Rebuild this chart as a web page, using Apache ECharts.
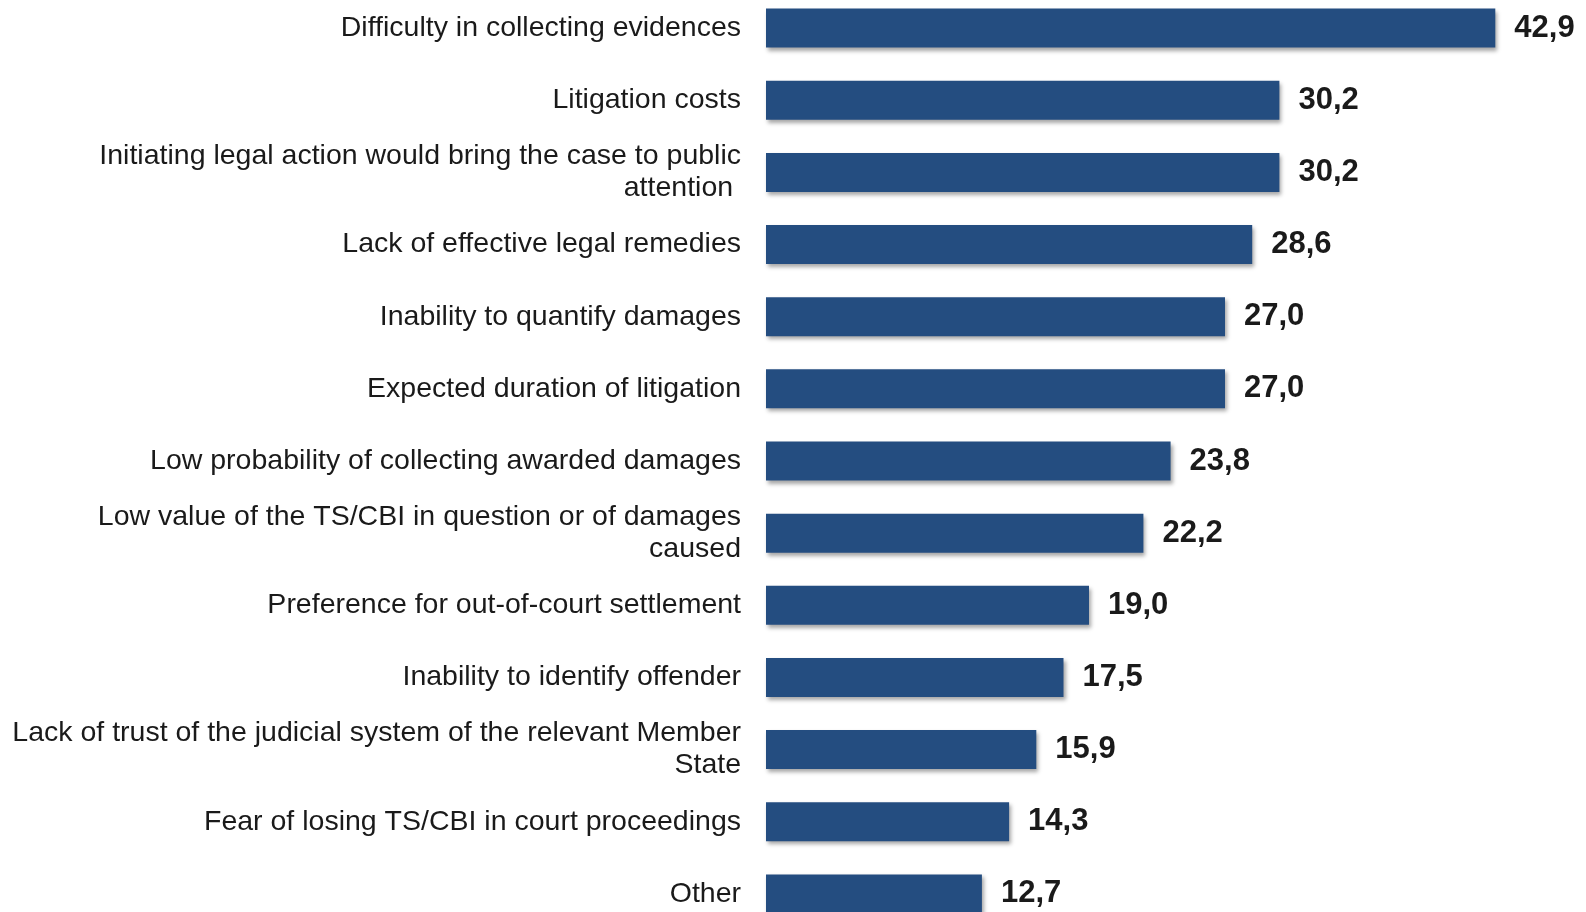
<!DOCTYPE html>
<html>
<head>
<meta charset="utf-8">
<script src="https://cdn.jsdelivr.net/npm/echarts@6/dist/echarts.min.js"></script>
<style>
  html, body { margin: 0; padding: 0; background: #fff; }
  #bars { width: 1586px; height: 912px; }
</style>
</head>
<body>
<div id="bars"></div>
<script>
 var reasons = [
   'Difficulty in collecting evidences',
   'Litigation costs',
   'Initiating legal action would bring the case to public\nattention ',
   'Lack of effective legal remedies',
   'Inability to quantify damages',
   'Expected duration of litigation',
   'Low probability of collecting awarded damages',
   'Low value of the TS/CBI in question or of damages\ncaused',
   'Preference for out-of-court settlement',
   'Inability to identify offender',
   'Lack of trust of the judicial system of the relevant Member\nState',
   'Fear of losing TS/CBI in court proceedings',
   'Other'
 ];
 var shares = [42.9, 30.2, 30.2, 28.6, 27.0, 27.0, 23.8, 22.2, 19.0, 17.5, 15.9, 14.3, 12.7];

 function makeBarOption() {
   var option = {
     animation: false,
     backgroundColor: '#ffffff',
     grid: {
       left: 766,
       right: 55,
       top: -8,
       bottom: -18,
       containLabel: false,
       outerBoundsMode: 'none'
     },
     xAxis: {
       type: 'value',
       min: 0,
       max: 45,
       show: false
     },
     yAxis: {
       type: 'category',
       inverse: true,
       data: reasons,
       axisLine: { show: false },
       axisTick: { show: false },
       axisLabel: {
         margin: 25,
         color: '#1a1a1a',
         fontFamily: 'Liberation Sans, Arial, sans-serif',
         fontSize: 28.5,
         lineHeight: 32,
         align: 'right'
       }
     },
     series: [
       {
         type: 'bar',
         data: shares,
         barWidth: 39,
         itemStyle: {
           color: '#244d80',
           shadowColor: 'rgba(0,0,0,0.35)',
           shadowBlur: 4,
           shadowOffsetX: 2,
           shadowOffsetY: 3
         },
         label: {
           show: true,
           position: 'right',
           distance: 19,
           color: '#1a1a1a',
           fontFamily: 'Liberation Sans, Arial, sans-serif',
           fontWeight: 'bold',
           fontSize: 31,
           formatter: function (p) {
             return p.value.toFixed(1).replace('.', ',');
           }
         }
       }
     ]
   };
   return option;
 }

 var myChart = echarts.init(document.getElementById('bars'));
 myChart.setOption(makeBarOption());
</script>
</body>
</html>
